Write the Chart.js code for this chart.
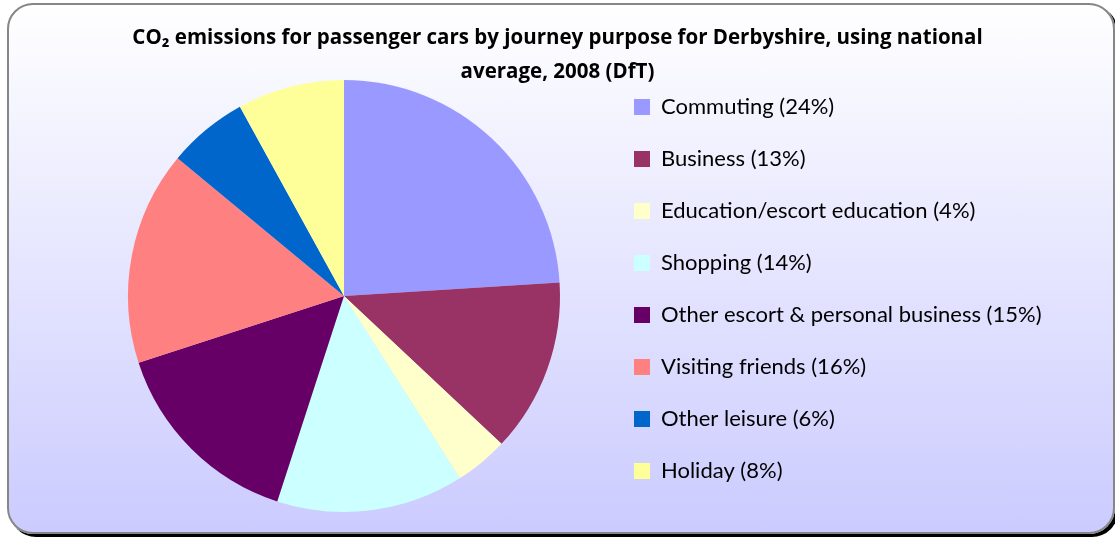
<!DOCTYPE html>
<html>
<head>
<meta charset="utf-8">
<script src="https://cdn.jsdelivr.net/npm/chart.js"></script>
<style>
    body { margin: 0; background: #ffffff; }
    #wrap { position: relative; width: 1115px; height: 537px; overflow: hidden; }
    #frame {
        position: absolute; left: 7px; top: 3px; width: 1104px; height: 527px;
        border: 2px solid #868686; border-radius: 26px;
        box-shadow: 3px 3px 0 #000;
        background: linear-gradient(#ffffff, #cbcbff);
    }
    #chart { position: absolute; left: 0; top: 0; }
</style>
</head>
<body>
<div id="wrap">
    <div id="frame"></div>
    <canvas id="chart" width="1115" height="537"></canvas>
</div>
<script>
// Journey purposes and their share of CO2 emissions (%)
const categories = [
    'Commuting (24%)',
    'Business (13%)',
    'Education/escort education (4%)',
    'Shopping (14%)',
    'Other escort & personal business (15%)',
    'Visiting friends (16%)',
    'Other leisure (6%)',
    'Holiday (8%)'
];
const shares = [24, 13, 4, 14, 15, 16, 6, 8];
const sliceColors = ['#9999ff', '#993366', '#ffffcc', '#ccffff', '#660066', '#ff8080', '#0066cc', '#ffff99'];

const titleLines = [
    'CO\u2082 emissions for passenger cars by journey purpose for Derbyshire, using national',
    'average, 2008 (DfT)'
];

// legend rows are 52px apart, first row centred near y=107
const legendFontSize = 22;
const legendGap = 38 - legendFontSize;
const legendLeft = 634 - legendGap;   // colour boxes start at x=634
const pieCentreX = 344;

// widest legend text, so the legend box ends right after it
const canvas = document.getElementById('chart');
const measureCtx = canvas.getContext('2d');
measureCtx.font = legendFontSize + 'px Lato';
let widest = 0;
categories.forEach(function (name) {
    widest = Math.max(widest, measureCtx.measureText(name).width);
});
const legendWidth = Math.ceil(legendGap + 16 + legendFontSize / 2 + widest + 3);

const chart = new Chart(canvas, {
    type: 'pie',
    data: {
        labels: categories,
        datasets: [{
            data: shares,
            backgroundColor: sliceColors,
            borderWidth: 0,
            radius: 216
        }]
    },
    options: {
        responsive: false,
        animation: false,
        events: [],
        layout: {
            padding: { top: 0, left: 2 * pieCentreX - legendLeft, right: 1115 - legendLeft - legendWidth, bottom: 21 }
        },
        plugins: {
            title: {
                display: true,
                text: titleLines,
                color: '#000',
                font: { family: 'Open Sans', size: 20.5, weight: 'bold', lineHeight: '34px' },
                padding: { top: 21, bottom: -13 }
            },
            legend: {
                position: 'right',
                fullSize: false,
                maxWidth: legendWidth,
                labels: {
                    boxWidth: 16,
                    boxHeight: 16,
                    padding: legendGap,
                    color: '#000',
                    font: { family: 'Lato', size: legendFontSize, lineHeight: (52 - legendGap) + 'px' },
                    // text as a one-line array so each row takes the font line height
                    generateLabels: function (chart) {
                        return categories.map(function (name, i) {
                            return {
                                text: [name],
                                fillStyle: sliceColors[i],
                                strokeStyle: sliceColors[i],
                                lineWidth: 0,
                                hidden: false,
                                index: i
                            };
                        });
                    }
                }
            },
            tooltip: { enabled: false }
        }
    }
});
</script>
</body>
</html>
